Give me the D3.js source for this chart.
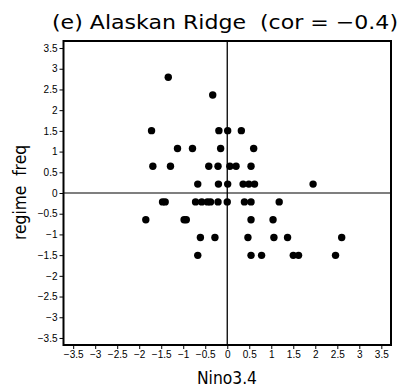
<!DOCTYPE html>
<html>
<head>
<meta charset="utf-8">
<script src="https://cdn.jsdelivr.net/npm/d3@7"></script>
<style>
  html, body { margin: 0; padding: 0; background: #fff; }
  svg { display: block; }
  text { white-space: pre; }
</style>
</head>
<body>
<svg id="chart" width="407" height="391"></svg>
<script>
// ---- data ----
const titleText = "(e) Alaskan Ridge  (cor = \u22120.4)";
const xLabel = "Nino3.4";
const yLabel = "regime  freq";
const tickValues = [-3.5, -3, -2.5, -2, -1.5, -1, -0.5, 0, 0.5, 1, 1.5, 2, 2.5, 3, 3.5];
const tickLabels = ["\u22123.5", "\u22123", "\u22122.5", "\u22122", "\u22121.5", "\u22121", "\u22120.5", "0", "0.5", "1", "1.5", "2", "2.5", "3", "3.5"];
const nino34 = [
  -1.34,
  -0.33,
  -1.72, -0.19, 0.01, 0.32,
  -1.13, -0.79, -0.15, 0.60,
  -1.69, -1.29, -0.42, -0.21, 0.06, 0.20, 0.54,
  -0.67, -0.20, 0.01, 0.36, 0.49, 0.62, 1.95,
  -1.47, -1.41, -0.72, -0.58, -0.45, -0.38, -0.21, 0.00, 0.39, 0.54, 1.18,
  -1.85, -0.98, -0.93, 0.54, 1.04,
  -0.61, -0.28, 0.47, 1.06, 1.37, 2.60,
  -0.67, 0.54, 0.78, 1.50, 1.62, 2.46
];
const regimeFreq = [
  2.795,
  2.365,
  1.505, 1.505, 1.505, 1.505,
  1.075, 1.075, 1.075, 1.075,
  0.645, 0.645, 0.645, 0.645, 0.645, 0.645, 0.645,
  0.215, 0.215, 0.215, 0.215, 0.215, 0.215, 0.215,
  -0.215, -0.215, -0.215, -0.215, -0.215, -0.215, -0.215, -0.215, -0.215, -0.215, -0.215,
  -0.645, -0.645, -0.645, -0.645, -0.645,
  -1.075, -1.075, -1.075, -1.075, -1.075, -1.075,
  -1.505, -1.505, -1.505, -1.505, -1.505, -1.505
];

// ---- layout ----
const svg = d3.select("#chart");
const plot = { left: 63.5, right: 391, top: 41, bottom: 345 };
const x = d3.scaleLinear().domain([-3.72, 3.72]).range([plot.left, plot.right]);
const y = d3.scaleLinear().domain([-3.67, 3.67]).range([plot.bottom, plot.top]);
const tickFont = "'Liberation Sans', Arial, sans-serif";
const labelFont = "'DejaVu Sans', Verdana, sans-serif";

// zero lines
svg.append("line")
  .attr("x1", plot.left).attr("x2", plot.right)
  .attr("y1", y(0)).attr("y2", y(0))
  .attr("stroke", "#555").attr("stroke-width", 1.3);
svg.append("line")
  .attr("x1", x(0)).attr("x2", x(0))
  .attr("y1", plot.top).attr("y2", plot.bottom)
  .attr("stroke", "#000").attr("stroke-width", 1.3);

// axes
const fmt = v => tickLabels[tickValues.indexOf(v)];
const xAxis = d3.axisBottom(x).tickValues(tickValues).tickFormat(fmt).tickSize(4).tickPadding(2);
const yAxis = d3.axisLeft(y).tickValues(tickValues).tickFormat(fmt).tickSize(4).tickPadding(2);

const gx = svg.append("g").attr("transform", `translate(0,${plot.bottom})`).call(xAxis);
const gy = svg.append("g").attr("transform", `translate(${plot.left},0)`).call(yAxis);
[gx, gy].forEach(g => {
  g.select(".domain").remove();
  g.selectAll(".tick line").attr("stroke", "#000").attr("stroke-width", 1);
  g.selectAll(".tick text").attr("fill", "#000")
    .style("font-family", tickFont).style("font-size", "10px");
});

// frame
svg.append("rect")
  .attr("x", plot.left).attr("y", plot.top)
  .attr("width", plot.right - plot.left).attr("height", plot.bottom - plot.top)
  .attr("fill", "none").attr("stroke", "#000").attr("stroke-width", 2);

// points
svg.append("g").selectAll("circle")
  .data(nino34.map((v, i) => [v, regimeFreq[i]]))
  .join("circle")
  .attr("cx", d => x(d[0]))
  .attr("cy", d => y(d[1]))
  .attr("r", 3.7)
  .attr("fill", "#000");

// title
svg.append("text")
  .attr("x", 52).attr("y", 29)
  .attr("textLength", 346).attr("lengthAdjust", "spacingAndGlyphs")
  .style("font-family", labelFont).style("font-size", "20px")
  .text(titleText);

// axis labels
svg.append("text")
  .attr("x", 197).attr("y", 384)
  .attr("textLength", 60).attr("lengthAdjust", "spacingAndGlyphs")
  .style("font-family", labelFont).style("font-size", "17px")
  .text(xLabel);
svg.append("text")
  .attr("transform", `translate(26,${y(0) + 47}) rotate(-90)`)
  .attr("textLength", 95).attr("lengthAdjust", "spacingAndGlyphs")
  .style("font-family", labelFont).style("font-size", "17px")
  .text(yLabel);
</script>
</body>
</html>
